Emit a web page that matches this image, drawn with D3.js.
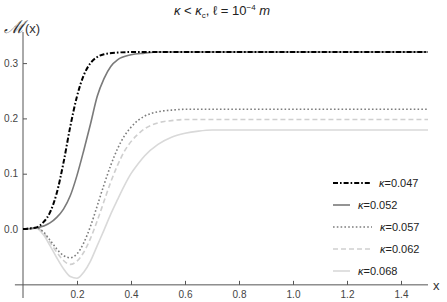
<!DOCTYPE html>
<html>
<head>
<meta charset="utf-8">
<script src="https://cdn.jsdelivr.net/npm/d3@7"></script>
<style>
  body { margin: 0; background: #fff; }
  text { font-family: "Liberation Sans", Arial, sans-serif; }
</style>
</head>
<body>
<svg id="chart" width="447" height="302"></svg>
<script>
// values
const xs047 = [0, 0.025, 0.05, 0.075, 0.1, 0.125, 0.15, 0.175, 0.2, 0.225, 0.25, 0.275, 0.3, 0.35, 0.4, 0.45, 1.5]
const k047 = [0, 0.001, 0.003, 0.012, 0.03, 0.065, 0.12, 0.185, 0.24, 0.278, 0.3, 0.311, 0.316, 0.319, 0.32, 0.32, 0.32]

const xs052 = [0, 0.05, 0.1, 0.125, 0.15, 0.175, 0.2, 0.225, 0.25, 0.275, 0.3, 0.325, 0.35, 0.4, 0.45, 0.5, 1.5]
const k052 = [0, 0.002, 0.011, 0.021, 0.036, 0.06, 0.097, 0.142, 0.19, 0.24, 0.272, 0.294, 0.306, 0.315, 0.318, 0.32, 0.32]

const xsDip = [0, 0.05, 0.075, 0.1, 0.125, 0.15, 0.175, 0.2, 0.225, 0.25, 0.275, 0.3, 0.325, 0.35, 0.375, 0.4, 0.425, 0.45, 0.5, 0.55, 0.6, 0.65, 0.7, 1.5]
const k057 = [0, 0.002, -0.005, -0.02, -0.036, -0.048, -0.052, -0.045, -0.025, 0.005, 0.042, 0.08, 0.115, 0.145, 0.168, 0.184, 0.196, 0.204, 0.212, 0.215, 0.2165, 0.2165, 0.2165, 0.2165]
const k062 = [0, 0.002, -0.006, -0.024, -0.042, -0.057, -0.064, -0.058, -0.042, -0.017, 0.015, 0.05, 0.085, 0.115, 0.14, 0.158, 0.171, 0.181, 0.192, 0.196, 0.198, 0.198, 0.198, 0.198]
const k068 = [0, 0.001, -0.01, -0.03, -0.052, -0.072, -0.086, -0.089, -0.078, -0.058, -0.03, -0.002, 0.027, 0.053, 0.078, 0.1, 0.117, 0.132, 0.153, 0.166, 0.173, 0.177, 0.179, 0.179]

const kappas = ["0.047", "0.052", "0.057", "0.062", "0.068"]
const xTicks = [0.2, 0.4, 0.6, 0.8, 1.0, 1.2, 1.4]
const yTicks = [0, 0.1, 0.2, 0.3]

const series = [
  {k: kappas[0], xs: xs047, ys: k047, color: "#000", width: 2, dash: "5,2,1.6,2", legW: 38},
  {k: kappas[1], xs: xs052, ys: k052, color: "#7a7a7a", width: 1.6, dash: null, legW: 17},
  {k: kappas[2], xs: xsDip, ys: k057, color: "#7d7d7d", width: 1.6, dash: "1.6,2.2", legW: 39},
  {k: kappas[3], xs: xsDip, ys: k062, color: "#cfcfcf", width: 1.6, dash: "5,3", legW: 39},
  {k: kappas[4], xs: xsDip, ys: k068, color: "#d9d9d9", width: 1.6, dash: null, legW: 17}
]

const svg = d3.select("#chart")
const x = d3.scaleLinear().domain([0, 1.5]).range([23, 428])
const y = d3.scaleLinear().domain([0, 0.3]).range([229, 63.1])
const axisY = -0.101

// x axis
const gx = svg.append("g").attr("transform", `translate(0,${y(axisY)})`)
gx.append("line").attr("x1", x(-0.03)).attr("x2", x(1.5)).attr("stroke", "#444").attr("stroke-width", 1)
gx.call(d3.axisBottom(x).tickValues(d3.range(0.05, 1.5, 0.05)).tickSize(-2).tickFormat(""))
gx.call(d3.axisBottom(x).tickValues(xTicks).tickSize(-4).tickPadding(6).tickFormat(d3.format(".1f")))
gx.selectAll(".domain").remove()
gx.selectAll("line").attr("stroke", "#555")
gx.selectAll("text").attr("fill", "#444").style("font-size", "10px")

// y axis
const gy = svg.append("g").attr("transform", `translate(${x(0)},0)`)
gy.append("line").attr("y1", 32).attr("y2", 298).attr("stroke", "#444")
gy.call(d3.axisLeft(y).tickValues(d3.range(-0.1, 0.35, 0.02)).tickSize(-2).tickFormat(""))
gy.call(d3.axisLeft(y).tickValues(yTicks).tickSize(-4).tickPadding(5).tickFormat(d3.format(".1f")))
gy.selectAll(".domain").remove()
gy.selectAll("line").attr("stroke", "#555")
gy.selectAll("text").attr("fill", "#444").style("font-size", "10px")

// curves
const line = d3.line().curve(d3.curveMonotoneX)
series.slice().reverse().forEach(s => {
  svg.append("path")
    .attr("d", line(s.xs.map((v, i) => [x(v), y(s.ys[i])])))
    .attr("fill", "none")
    .attr("stroke", s.color)
    .attr("stroke-width", s.width)
    .attr("stroke-dasharray", s.dash)
})

// legend
const legY = d3.scaleLinear().domain([0, 4]).range([183, 271])
series.forEach((s, i) => {
  const ly = legY(i)
  svg.append("line").attr("x1", 333).attr("x2", 333 + s.legW).attr("y1", ly).attr("y2", ly)
    .attr("stroke", s.color).attr("stroke-width", s.width).attr("stroke-dasharray", s.dash)
  const t = svg.append("text").attr("x", 333 + s.legW + 8).attr("y", ly + 4)
    .style("font-size", "11px").attr("fill", "#222")
  t.append("tspan").style("font-style", "italic").text("κ")
  t.append("tspan").text("=" + s.k)
})

// labels
svg.append("text").attr("x", 433).attr("y", y(axisY) + 5).style("font-size", "13px").attr("fill", "#333").text("x")
const ml = svg.append("text").attr("x", 4).attr("y", 33).attr("fill", "#333")
ml.append("tspan").style("font-family", "DejaVu Serif").style("font-style", "italic").style("font-size", "18px").text("ℳ")
ml.append("tspan").style("font-size", "13px").text("(x)")

const title = svg.append("text").attr("x", 222).attr("y", 15).attr("text-anchor", "middle")
  .style("font-size", "13px").attr("fill", "#222")
title.append("tspan").style("font-style", "italic").text("κ")
title.append("tspan").text(" < ")
title.append("tspan").style("font-style", "italic").text("κ")
title.append("tspan").attr("dy", 2.5).style("font-size", "8px").text("c")
title.append("tspan").attr("dy", -2.5).text(", ℓ = 10")
title.append("tspan").attr("dy", -5).style("font-size", "8px").text("−4")
title.append("tspan").attr("dy", 5).style("font-style", "italic").text(" m")
</script>
</body>
</html>
